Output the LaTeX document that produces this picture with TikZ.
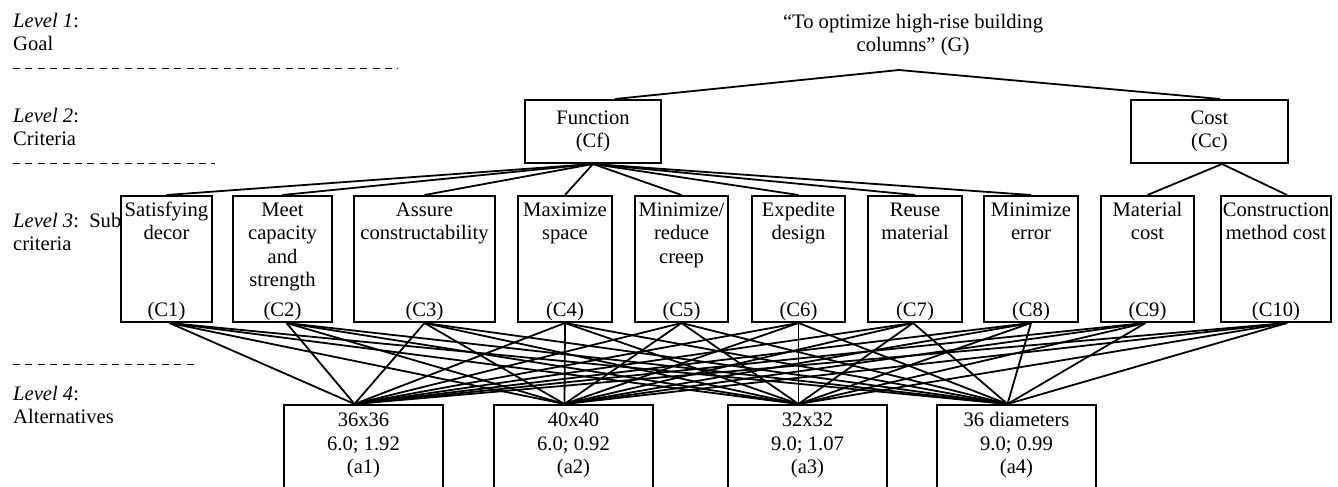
\documentclass[tikz,border=0pt]{standalone}
\usepackage{fontspec}
\setmainfont{Liberation Serif}
\begin{document}
\begin{tikzpicture}[x=1pt,y=-1pt,
  font=\fontsize{20.6}{23.5}\selectfont,
  box/.style={draw, line width=2pt, inner sep=0pt},
  txt/.style={inner sep=0pt, align=center, anchor=north},
  lbl/.style={inner sep=0pt, align=left, anchor=north west},
  tag/.style={inner sep=0pt, anchor=base},
  link/.style={line width=1.8pt},
  sep/.style={line width=1pt, dash pattern=on 7pt off 5.4pt}]
\useasboundingbox (0,0) rectangle (1338,487);
\clip (0,0) rectangle (1338,487);

% level labels
\node[lbl] (L1) at (13,10.55) {\strut\textit{Level 1}:\\Goal};
\node[lbl] (L2) at (13,105.55) {\strut\textit{Level 2}:\\Criteria};
\node[lbl] (L3) at (13,210.55) {\strut\textit{Level 3}:\ \ Sub\\criteria};
\node[lbl] (L4) at (13,383.55) {\strut\textit{Level 4}:\\Alternatives};
\draw[sep] (13,69) -- (398,69);
\draw[sep] (13,163) -- (215,163);
\draw[sep] (13,364) -- (198,364);

% goal
\node[txt] (G) at (913,11.55) {\strut “To optimize high-rise building\\columns” (G)};
\coordinate (Gx) at (899,70);

% criteria
\node[box, minimum width=136, minimum height=63, align=center] (Cf) at (593,131.5) {Function\\(Cf)};
\node[box, minimum width=157, minimum height=63, align=center] (Cc) at (1209.5,131.5) {Cost\\(Cc)};

% sub-criteria
\foreach \n/\x/\w/\t in {
  C1/166.5/91/{Satisfying\\decor},
  C2/282.5/99/{Meet\\capacity\\and\\strength},
  C3/424.5/141/{Assure\\constructability},
  C4/565/94/{Maximize\\space},
  C5/681.5/93/{Minimize/\\reduce\\creep},
  C6/798.5/93/{Expedite\\design},
  C7/915/94/{Reuse\\material},
  C8/1031/94/{Minimize\\error},
  C9/1147.5/93/{Material\\cost},
  C10/1276/110/{Construction\\method cost}}{
  \node[box, minimum width=\w, minimum height=126] (\n) at (\x,259) {};
  \node[txt] (\n t) at ([yshift=-4.5pt]\n.north) {\strut\t};
  \node[tag] (\n l) at ([yshift=7pt]\n.south) {(\n)};
}

% alternatives
\foreach \n/\x/\a/\b in {
  a1/363.5/36x36/{6.0; 1.92},
  a2/573.5/40x40/{6.0; 0.92},
  a3/807.5/32x32/{9.0; 1.07},
  a4/1016.5/36 diameters/{9.0; 0.99}}{
  \node[box, minimum width=159, minimum height=115] (\n) at (\x,462.5) {};
  \node[txt] (\n t) at ([yshift=-6.2pt]\n.north) {\strut\a\\\b\\(\n)};
}

% connectors
\draw[link] (Gx) -- ([xshift=22pt]Cf.north);
\draw[link] (Gx) -- ([xshift=10.5pt]Cc.north);
\foreach \c in {C1,C2,C3,C4,C5,C6,C7,C8}
  \draw[link] (Cf.south) -- (\c.north);
\draw[link] ([xshift=12.5pt]Cc.south) -- (C9.north);
\draw[link] ([xshift=12.5pt]Cc.south) -- ([xshift=11pt]C10.north);
\foreach \c/\s in {C1/3,C2/4,C3/0,C4/0,C5/0,C6/0,C7/-2,C8/0,C9/-2,C10/11}
  \foreach \a in {a1,a2,a3,a4}
    \draw[link] ([xshift=\s pt]\c.south) -- ([xshift=-9pt]\a.north);
\end{tikzpicture}
\end{document}
